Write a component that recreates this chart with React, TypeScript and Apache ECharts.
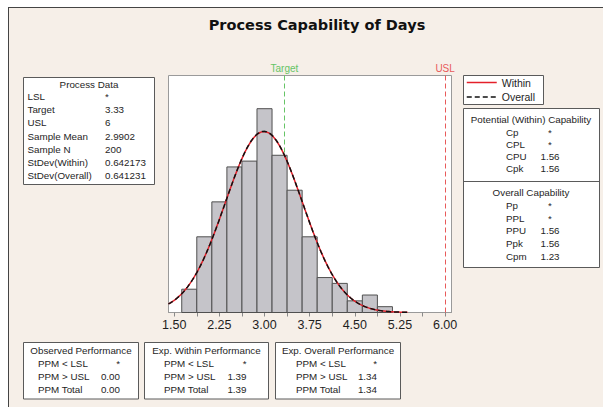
import React, { useEffect, useRef } from "react";
import * as echarts from "echarts";

// ---------- data ----------
const binCenters = [1.75, 2.0, 2.25, 2.5, 2.75, 3.0, 3.25, 3.5, 3.75, 4.0, 4.25, 4.5, 4.75, 5.0, 5.25];
const binCounts = [4, 13, 19, 25, 26, 35, 27, 21, 13, 6, 5, 2, 3, 1, 0];
const binWidth = 0.25;

const sampleN = 200;
const sampleMean = 2.9902;
const stdevWithin = 0.642173;
const stdevOverall = 0.641231;
const targetValue = 3.33;
const uslValue = 6;

const xMin = 1.405;
const xMax = 6.106;
const yMax = 40.7;
const xTickValues = [1.5, 1.875, 2.25, 2.625, 3.0, 3.375, 3.75, 4.125, 4.5, 4.875, 5.25, 5.625, 6.0];
const xLabelValues = [1.5, 2.25, 3.0, 3.75, 4.5, 5.25, 6.0];

const processDataLabels = ["LSL", "Target", "USL", "Sample Mean", "Sample N", "StDev(Within)", "StDev(Overall)"];
const processDataValues = ["*", "3.33", "6", "2.9902", "200", "0.642173", "0.641231"];
const withinCapLabels = ["Cp", "CPL", "CPU", "Cpk"];
const withinCapValues = ["*", "*", "1.56", "1.56"];
const overallCapLabels = ["Pp", "PPL", "PPU", "Ppk", "Cpm"];
const overallCapValues = ["*", "*", "1.56", "1.56", "1.23"];
const ppmLabels = ["PPM < LSL", "PPM > USL", "PPM Total"];
const observedPPM = ["*", "0.00", "0.00"];
const expWithinPPM = ["*", "1.39", "1.39"];
const expOverallPPM = ["*", "1.34", "1.34"];

// ---------- helpers ----------
const FONT = "'Liberation Sans', Arial, sans-serif";
const TXT = "#1e1e1e";
const BOX = "#5a5a5a";

function fittedCurve(sd: number): number[][] {
  const end = binCenters[binCenters.length - 1] + binWidth / 2;
  const pts: number[][] = [];
  const steps = 240;
  for (let i = 0; i <= steps; i++) {
    const x = xMin + ((end - xMin) * i) / steps;
    const z = (x - sampleMean) / sd;
    pts.push([x, (sampleN * binWidth * Math.exp(-0.5 * z * z)) / (sd * Math.sqrt(2 * Math.PI))]);
  }
  return pts;
}

function txt(text: string, x: number, y: number, align: string = "left", size = 9.8, color = TXT) {
  return {
    type: "text",
    x,
    y,
    z: 20,
    style: {
      text,
      fill: color,
      fontSize: size,
      fontFamily: FONT,
      align,
      textAlign: align,
      verticalAlign: "middle",
      textVerticalAlign: "middle",
    },
  };
}

function box(x: number, y: number, w: number, h: number, z = 10) {
  return {
    type: "rect",
    z,
    shape: { x, y, width: w, height: h },
    style: { fill: "#ffffff", stroke: BOX, lineWidth: 1 },
  };
}

function line(x1: number, y1: number, x2: number, y2: number, color = BOX, width = 1) {
  return {
    type: "line",
    z: 15,
    shape: { x1, y1, x2, y2 },
    style: { stroke: color, lineWidth: width },
  };
}

function buildGraphics() {
  const g: any[] = [];
  // page frame
  g.push({ type: "rect", z: 5, shape: { x: 0, y: 0, width: 603, height: 7 }, style: { fill: "#ffffff" } });
  g.push({ type: "rect", z: 5, shape: { x: 0, y: 0, width: 8, height: 407 }, style: { fill: "#ffffff" } });
  g.push(line(8, 7.5, 603, 7.5, "#444444", 1));
  g.push(line(8.5, 7, 8.5, 407, "#444444", 1));

  // Process Data box
  g.push(box(23.5, 77.5, 131, 107));
  g.push(txt("Process Data", 89, 84.5, "center"));
  processDataLabels.forEach((l, i) => {
    const y = 96.5 + i * 13.2;
    g.push(txt(l, 27.5, y));
    g.push(txt(processDataValues[i], 105, y));
  });

  // Legend box (behind the legend component)
  g.push(box(463.5, 75.5, 80, 29, 0));

  // Capability box
  g.push(box(463.5, 108.5, 136, 159));
  g.push(line(463.5, 181.5, 599.5, 181.5));
  g.push(txt("Potential (Within) Capability", 531, 119, "center"));
  withinCapLabels.forEach((l, i) => {
    const y = 132 + i * 12.2;
    g.push(txt(l, 506, y));
    g.push(txt(withinCapValues[i], 550, y, "center"));
  });
  g.push(txt("Overall Capability", 531, 192.5, "center"));
  overallCapLabels.forEach((l, i) => {
    const y = 205.5 + i * 12.7;
    g.push(txt(l, 506, y));
    g.push(txt(overallCapValues[i], 550, y, "center"));
  });

  // bottom performance boxes
  const perf = [
    { x: 23.5, w: 115, title: "Observed Performance", lx: 38, vx: 120, vals: observedPPM },
    { x: 144.5, w: 124, title: "Exp. Within Performance", lx: 164, vx: 246.5, vals: expWithinPPM },
    { x: 275.5, w: 125, title: "Exp. Overall Performance", lx: 296, vx: 377, vals: expOverallPPM },
  ];
  perf.forEach((p) => {
    g.push(box(p.x, 342.5, p.w, 56.5));
    g.push(txt(p.title, p.x + p.w / 2, 350.7, "center"));
    ppmLabels.forEach((l, i) => {
      const y = 363 + i * 13.3;
      g.push(txt(l, p.lx, y));
      g.push(txt(p.vals[i], p.vx, y, "right"));
    });
  });
  return g;
}

export default function App() {
  const ref = useRef<HTMLDivElement>(null);

  useEffect(() => {
    if (!ref.current) return;
    const chart = echarts.init(ref.current, undefined, { renderer: "svg" });

    const histData = binCenters
      .map((c, i) => [c - binWidth / 2, c + binWidth / 2, binCounts[i]])
      .filter((d) => d[2] > 0);

    const option: any = {
      animation: false,
      backgroundColor: "#f6efe8",
      title: {
        text: "Process Capability of Days",
        left: 312,
        top: 12,
        textAlign: "center",
        textStyle: { fontFamily: "'DejaVu Sans', Verdana, sans-serif", fontWeight: "bold", fontSize: 14.5, color: "#111111" },
      },
      legend: {
        data: ["Within", "Overall"],
        orient: "vertical",
        left: 466,
        top: 77,
        z: 30,
        padding: 0,
        itemWidth: 30,
        itemHeight: 10,
        itemGap: 3.5,
        itemStyle: { opacity: 0, borderWidth: 0 },
        lineStyle: { width: 1.5 },
        textStyle: { fontFamily: FONT, fontSize: 10.5, color: TXT },
      },
      grid: {
        left: 168.5,
        top: 75.5,
        width: 283,
        height: 237,
        show: true,
        backgroundColor: "#ffffff",
        borderColor: "#9a9a9a",
        borderWidth: 1,
      },
      xAxis: {
        type: "value",
        min: xMin,
        max: xMax,
        axisLine: { show: true, lineStyle: { color: "#9a9a9a", width: 1 } },
        axisTick: { show: true, inside: false, length: 4, customValues: xTickValues, lineStyle: { color: "#8a8a8a" } },
        axisLabel: {
          show: true,
          customValues: xLabelValues,
          margin: 6,
          formatter: (v: number) => v.toFixed(2),
          fontFamily: FONT,
          fontSize: 12.5,
          color: TXT,
        },
        splitLine: { show: false },
      },
      yAxis: {
        type: "value",
        min: 0,
        max: yMax,
        show: false,
        splitLine: { show: false },
      },
      graphic: buildGraphics(),
      series: [
        {
          type: "line",
          name: "spec",
          data: [],
          z: 1,
          silent: true,
          markLine: {
            silent: true,
            z: 1,
            symbol: ["none", "none"],
            animation: false,
            data: [
              {
                xAxis: targetValue,
                lineStyle: { color: "#66c466", type: [5, 3], width: 1 },
                label: { formatter: "Target", color: "#66c466" },
              },
              {
                xAxis: uslValue,
                lineStyle: { color: "#e85a5a", type: [5, 3], width: 1 },
                label: { formatter: "USL", color: "#e85a5a" },
              },
            ],
            label: { show: true, position: "end", distance: 2, fontFamily: FONT, fontSize: 10 },
          },
        },
        {
          type: "custom",
          name: "hist",
          z: 6,
          data: histData,
          encode: { x: [0, 1], y: 2 },
          renderItem: (params: any, api: any) => {
            const p0 = api.coord([api.value(0), api.value(2)]);
            const p1 = api.coord([api.value(1), 0]);
            return {
              type: "rect",
              shape: { x: p0[0], y: p0[1], width: p1[0] - p0[0], height: p1[1] - p0[1] },
              style: { fill: "#c5c4c9", stroke: "#505050", lineWidth: 1 },
            };
          },
        },
        {
          type: "line",
          name: "Within",
          z: 7,
          data: fittedCurve(stdevWithin),
          symbol: "none",
          showSymbol: false,
          smooth: false,
          lineStyle: { color: "#e4202a", width: 1.5 },
          itemStyle: { color: "#e4202a" },
        },
        {
          type: "line",
          name: "Overall",
          z: 8,
          data: fittedCurve(stdevOverall),
          symbol: "none",
          showSymbol: false,
          smooth: false,
          lineStyle: { color: "#111111", width: 1.5, type: [5, 3] },
          itemStyle: { color: "#111111" },
        },
      ],
    };

    chart.setOption(option);
    return () => chart.dispose();
  }, []);

  return (
    <div
      ref={ref}
      style={{ position: "fixed", left: 0, top: 0, width: 603, height: 407 }}
    />
  );
}
